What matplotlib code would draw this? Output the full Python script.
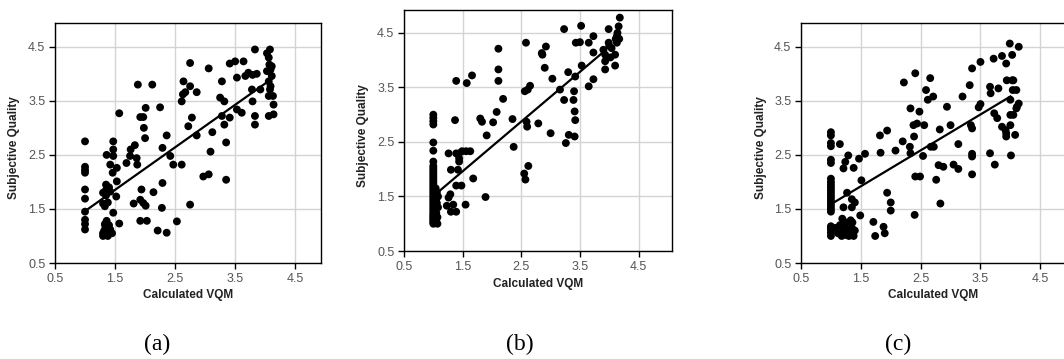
import matplotlib
matplotlib.use("Agg")
import matplotlib.pyplot as plt

# panel (a)
a_x = [1.0, 1.0, 1.0, 1.0, 1.0, 1.0, 1.0, 1.0, 1.0, 1.0,
       1.30, 1.32, 1.35, 1.33, 1.38, 1.40, 1.36, 1.42, 1.30, 1.34, 1.40, 1.38, 1.45, 1.32, 1.36,
       1.35, 1.35, 1.30, 1.40, 1.33, 1.38, 1.30, 1.35, 1.42,
       1.36, 1.42, 1.47, 1.47, 1.47, 1.46, 1.53, 1.53, 1.52, 1.47, 1.57, 1.57,
       1.69, 1.76, 1.75, 1.83, 1.86, 1.87, 1.81, 1.88, 1.92, 1.97, 1.98, 2.00, 2.01, 1.94,
       1.92, 1.97, 2.01, 1.92, 2.03, 2.12, 2.14, 2.21, 2.25, 2.29, 2.28, 2.29, 2.36, 2.36,
       2.42, 2.47, 2.53, 2.61, 2.61, 2.63, 2.64, 2.67, 2.72, 2.75, 2.75, 2.78, 2.75, 2.86,
       2.86, 2.97, 3.06, 3.06, 3.12, 3.09, 3.25, 3.28, 3.28, 3.32, 3.32, 3.35, 3.35, 3.41,
       3.41, 3.50, 3.53, 3.53, 3.61, 3.64, 3.67, 3.72, 3.78, 3.79, 3.79, 3.83, 3.83, 3.83,
       3.86, 3.92, 4.03, 4.06, 4.08, 4.07, 4.09, 4.11, 4.06, 4.08, 4.06, 4.09, 4.06, 4.14,
       4.14, 4.11, 4.13, 4.03]
a_y = [2.75, 2.28, 2.22, 2.17, 1.86, 1.69, 1.45, 1.30, 1.22, 1.12,
       1.05, 1.10, 1.15, 1.22, 1.00, 1.08, 1.28, 1.12, 1.00, 1.18, 1.20, 1.05, 1.05, 1.03, 1.10,
       1.95, 1.85, 1.80, 1.90, 1.55, 1.62, 1.60, 1.75, 1.82,
       2.50, 2.32, 2.75, 2.60, 2.48, 2.17, 2.26, 2.01, 1.73, 1.43, 1.23, 3.27,
       2.35, 2.60, 2.48, 2.68, 2.44, 2.32, 1.60, 3.80, 3.20, 3.20, 3.00, 2.81, 3.37, 1.86,
       1.67, 1.61, 1.56, 1.28, 1.28, 3.80, 1.81, 1.10, 3.38, 1.98, 1.52, 2.63, 2.86, 1.06,
       2.48, 2.32, 1.27, 2.32, 3.49, 3.62, 3.86, 3.66, 3.03, 4.20, 3.77, 3.19, 1.58, 3.66,
       2.86, 2.10, 2.14, 4.10, 2.92, 2.56, 3.56, 3.86, 3.22, 3.49, 3.06, 2.73, 2.04, 4.19,
       3.19, 4.23, 3.93, 3.34, 3.28, 4.23, 3.96, 4.02, 3.71, 3.49, 3.98, 4.45, 3.22, 3.06,
       4.00, 3.71, 4.38, 4.30, 4.45, 4.17, 4.08, 3.96, 3.86, 3.71, 3.59, 3.77, 3.22, 3.25,
       3.43, 4.14, 3.59, 4.05]
a_fit_x = [1.0, 4.14]
a_fit_y = [1.46, 3.93]

# panel (b)
b_x = [1.0] * 36 + [
       1.05, 1.07, 1.05, 1.08, 1.06, 1.05, 1.08, 1.06, 1.04, 1.07,
       1.26, 1.37, 1.39, 1.44, 1.49, 1.56, 1.63, 1.44, 1.44, 1.30, 1.42, 1.68, 1.39, 1.48,
       1.29, 1.26, 1.23, 1.34, 1.30, 1.39, 1.55, 1.89,
       1.39, 1.57, 1.66, 1.80, 1.83, 1.91, 2.02, 2.08, 2.11, 2.11, 2.11, 2.19, 2.35, 2.37,
       2.55, 2.57, 2.62, 2.56, 2.61, 2.65, 2.58, 2.59, 2.60, 2.79, 2.85, 2.86, 2.92, 2.90,
       3.00, 3.03, 3.16, 3.23, 3.23, 3.26, 3.30, 3.31, 3.39, 3.40, 3.41, 3.42, 3.41, 3.42,
       3.43, 3.50, 3.52, 3.53, 3.65, 3.65, 3.73, 3.73, 3.73, 3.90, 3.93, 3.93, 3.99, 3.99,
       4.00, 4.02, 4.04, 4.10, 4.10, 4.11, 4.13, 4.14, 4.16, 4.18, 4.17, 4.13, 3.93]
b_y = [1.00, 1.03, 1.06, 1.09, 1.12, 1.15, 1.18, 1.22, 1.26, 1.30, 1.34, 1.38,
       1.42, 1.46, 1.50, 1.54, 1.58, 1.62, 1.66, 1.70, 1.74, 1.78, 1.82, 1.86,
       1.90, 1.94, 1.98, 2.02, 2.06, 2.14, 2.34, 2.49, 2.82, 2.88, 2.94, 3.00,
       1.05, 1.12, 1.20, 1.30, 1.38, 1.45, 1.50, 1.58, 1.65, 1.00,
       2.29, 2.90, 2.29, 2.29, 2.33, 2.33, 2.33, 2.20, 2.14, 1.99, 1.99, 1.83, 1.70, 1.70,
       1.54, 1.48, 1.33, 1.35, 1.22, 1.22, 1.35, 1.49,
       3.62, 3.58, 3.72, 2.93, 2.87, 2.62, 2.86, 3.05, 4.21, 3.83, 3.62, 3.29, 2.92, 2.41,
       1.92, 1.81, 2.06, 3.43, 3.46, 3.53, 4.32, 2.87, 2.78, 2.84, 4.13, 4.10, 4.25, 3.86,
       2.66, 3.66, 3.46, 4.57, 3.27, 2.48, 3.78, 2.63, 3.27, 3.43, 3.06, 2.90, 2.60, 3.70,
       4.32, 4.33, 4.63, 3.90, 4.32, 3.52, 4.44, 4.14, 3.65, 4.19, 4.10, 3.83, 4.57, 4.32,
       4.26, 4.05, 4.22, 4.10, 3.90, 4.39, 4.44, 4.50, 4.62, 4.78, 4.39, 4.32, 3.98]
b_fit_x = [1.07, 3.90]
b_fit_y = [1.57, 4.15]

# panel (c)
c_x = [1.0] * 24 + [
       1.08, 1.12, 1.15, 1.18, 1.20, 1.22, 1.25, 1.28, 1.30, 1.33, 1.35, 1.38, 1.40, 1.25,
       1.30, 1.36,
       1.15, 1.29, 1.24, 1.21, 1.38, 1.47, 1.57, 1.51, 1.27, 1.35, 1.21, 1.35, 1.40, 1.49,
       1.19, 1.33, 1.71, 1.74, 1.88, 1.90, 1.82, 1.94, 1.94, 2.00, 2.00, 1.83,
       2.08, 2.20, 2.22, 2.33, 2.32, 2.33, 2.38, 2.41, 2.39, 2.41, 2.40, 2.44, 2.48, 2.49,
       2.54, 2.56, 2.59, 2.62, 2.66, 2.71, 2.67, 2.72, 2.76, 2.80, 2.83, 2.82, 2.88, 2.94,
       3.00, 3.05, 3.13, 3.13, 3.20, 3.32, 3.36, 3.34, 3.36, 3.36, 3.36, 3.36, 3.47, 3.50,
       3.50, 3.66, 3.67, 3.66, 3.72, 3.73, 3.74, 3.78, 3.80, 3.86, 3.86, 3.92, 3.93, 3.94,
       3.93, 3.93, 3.99, 4.00, 4.00, 4.00, 4.01, 4.03, 4.03, 4.05, 4.04, 4.05, 4.08, 4.10,
       4.11, 4.10, 4.14, 4.14]
c_y = [2.92, 2.86, 2.72, 2.66, 2.41, 2.35, 2.06, 2.00, 1.95, 1.90, 1.85, 1.80,
       1.75, 1.70, 1.65, 1.60, 1.55, 1.50, 1.45, 1.18, 1.12, 1.06, 1.00, 1.15,
       1.15, 1.05, 1.20, 1.00, 1.10, 1.18, 1.02, 1.12, 1.22, 1.05, 1.15, 1.00, 1.10, 1.25,
       1.00, 1.25,
       2.70, 2.49, 2.37, 2.25, 2.26, 2.43, 2.52, 2.03, 1.80, 1.68, 1.53, 1.53, 1.62, 1.38,
       1.32, 1.29, 1.26, 1.00, 1.17, 1.05, 2.86, 2.95, 1.80, 1.62, 1.47, 2.54,
       2.58, 2.75, 3.84, 3.36, 2.65, 2.53, 3.05, 4.01, 2.84, 2.10, 1.39, 3.08, 3.30, 2.10,
       2.48, 3.05, 3.70, 3.52, 3.92, 3.58, 2.65, 2.65, 2.04, 2.31, 1.60, 2.97, 2.28, 3.39,
       3.05, 2.32, 2.24, 2.70, 3.58, 3.79, 4.10, 3.05, 2.99, 2.52, 2.47, 2.14, 3.38, 3.44,
       4.22, 3.76, 3.64, 2.53, 4.28, 3.27, 2.32, 3.18, 3.73, 4.33, 3.02, 2.96, 4.19, 3.88,
       2.84, 2.90, 4.56, 3.52, 3.24, 3.05, 2.49, 3.88, 4.35, 3.88, 3.70, 3.24, 2.87, 3.70,
       3.39, 3.36, 4.50, 3.45]
c_fit_x = [1.02, 4.00]
c_fit_y = [1.60, 3.58]

ticks = [0.5, 1.5, 2.5, 3.5, 4.5]
tick_labels = ["0.5", "1.5", "2.5", "3.5", "4.5"]
panel_names = ["(a)", "(b)", "(c)"]

plt.rcParams['font.family'] = ['Liberation Sans', 'DejaVu Sans']

fig = plt.figure(figsize=(10.64, 3.59), dpi=100)

# axes boxes in figure fractions
boxes = [
    [55 / 1064, 96 / 359, 266 / 1064, 240 / 359],
    [404 / 1064, 108 / 359, 268 / 1064, 241 / 359],
    [801 / 1064, 96 / 359, 265 / 1064, 240 / 359],
]
xmax = [4.93, 5.07, 4.93]
ymax = [4.94, 4.92, 4.94]
label_x = [157, 520, 898]

data = [(a_x, a_y, a_fit_x, a_fit_y),
        (b_x, b_y, b_fit_x, b_fit_y),
        (c_x, c_y, c_fit_x, c_fit_y)]

for i, (xs, ys, fx, fy) in enumerate(data):
    ax = fig.add_axes(boxes[i])
    ax.set_xlim(0.5, xmax[i])
    ax.set_ylim(0.5, ymax[i])
    ax.set_xticks(ticks)
    ax.set_xticklabels(tick_labels)
    ax.set_yticks(ticks)
    ax.set_yticklabels(tick_labels)
    ax.grid(True, color="#d4d4d4", linewidth=1.0)
    ax.set_axisbelow(True)
    ax.scatter(xs, ys, s=32, color="black", edgecolors="none", zorder=3)
    ax.plot(fx, fy, color="black", linewidth=1.6, zorder=4)
    for sp in ax.spines.values():
        sp.set_color("black")
        sp.set_linewidth(1.0)
    ax.tick_params(direction="out", length=4, width=1, color="black",
                   labelsize=9, labelcolor="#555555", pad=3)
    ax.set_xlabel("Calculated VQM", fontsize=8.5, fontweight="bold", color="#222222")
    ax.set_ylabel("Subjective Quality", fontsize=8.5, fontweight="bold", color="#222222")
    ax.xaxis.set_label_coords(0.5, -0.11)
    ax.yaxis.set_label_coords(-0.13, 0.48)
    fig.text(label_x[i] / 1064, 1 - 344 / 359, panel_names[i], ha="center", va="center",
             fontsize=17, family="Liberation Serif")

fig.savefig("out.png", dpi=100)
